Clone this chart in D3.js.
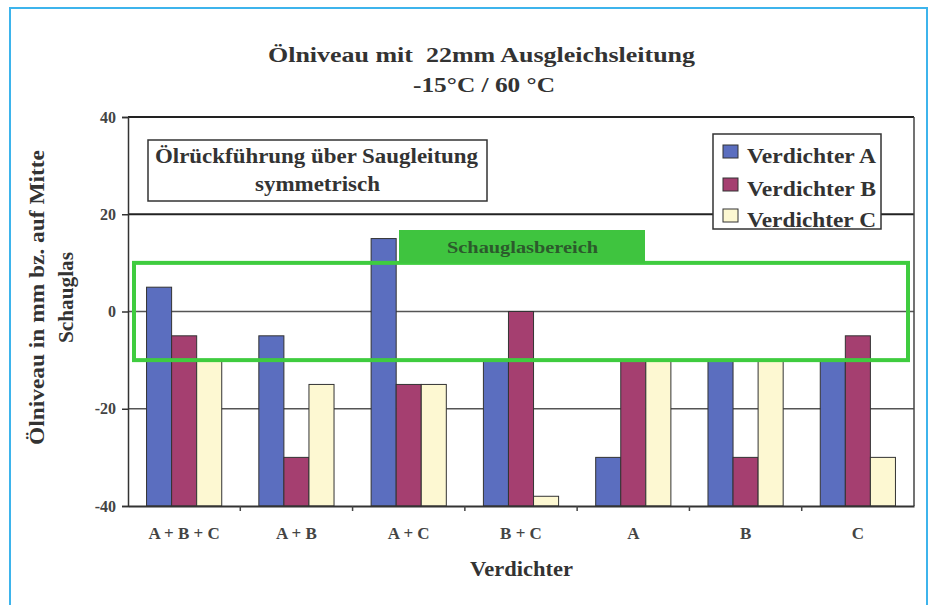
<!DOCTYPE html>
<html><head><meta charset="utf-8">
<script src="https://cdn.jsdelivr.net/npm/d3@7/dist/d3.min.js"></script>
<style>
html,body{margin:0;padding:0;background:#fff;}
svg{display:block;}
text{font-family:"Liberation Serif","Times New Roman",serif;font-weight:bold;}
</style></head>
<body>
<svg id="chart" width="933" height="605"></svg>
<script>
const categories = ["A + B + C","A + B","A + C","B + C","A","B","C"];
const seriesNames = ["Verdichter A","Verdichter B","Verdichter C"];
const verdichterA = [5,-5,15,-10,-30,-10,-10];
const verdichterB = [-5,-30,-15,0,-10,-30,-5];
const verdichterC = [-10,-15,-15,-38,-10,-10,-30];
const yTicks = [40,20,0,-20,-40];
const seriesColors = ["#5b6ebf","#a53f70","#fdf8d2"];
const schauglasRange = [10,-10];

const svg = d3.select("#chart");
const m = {left:128, right:914, top:117, bottom:506};

// outer light-blue frame
svg.append("rect").attr("x",10).attr("y",8).attr("width",917).attr("height",620)
  .attr("fill","none").attr("stroke","#3db4ec").attr("stroke-width",2);

const x0 = d3.scaleBand().domain(categories).range([m.left,m.right]).paddingInner(0).paddingOuter(0);
const x1 = d3.scaleBand().domain(seriesNames).range([0,x0.bandwidth()]).paddingOuter(0.74).paddingInner(0);
const y = d3.scaleLinear().domain([-40,40]).range([m.bottom,m.top]);

function fitText(sel, len){ return sel.attr("textLength",len).attr("lengthAdjust","spacingAndGlyphs"); }

// title
fitText(svg.append("text").attr("x",481.5).attr("y",62).attr("text-anchor","middle")
  .attr("font-size",20).attr("fill","#333").attr("xml:space","preserve").text("Ölniveau mit  22mm Ausgleichsleitung"),427);
fitText(svg.append("text").attr("x",484).attr("y",92).attr("text-anchor","middle")
  .attr("font-size",20).attr("fill","#333").text("-15°C / 60 °C"),142);

// gridlines
svg.append("g").selectAll("line").data(yTicks.filter(d=>d>-40)).join("line")
  .attr("x1",m.left).attr("x2",m.right)
  .attr("y1",d=>y(d)).attr("y2",d=>y(d))
  .attr("stroke",d=>d===20||d===40?"#222":"#555").attr("stroke-width",d=>d===20||d===40?2:1.5);

// right border
svg.append("line").attr("x1",m.right).attr("x2",m.right).attr("y1",m.top).attr("y2",m.bottom)
  .attr("stroke","#444").attr("stroke-width",1.5);

// bars
const data = categories.map((c,i)=>({cat:c, vals:[verdichterA[i],verdichterB[i],verdichterC[i]]}));
const groups = svg.append("g").selectAll("g").data(data).join("g")
  .attr("transform",d=>`translate(${x0(d.cat)},0)`);
groups.selectAll("rect").data(d=>d.vals.map((v,j)=>({v, s:seriesNames[j], j}))).join("rect")
  .attr("x",d=>x1(d.s)).attr("width",x1.bandwidth())
  .attr("y",d=>y(d.v)).attr("height",d=>y(-40)-y(d.v))
  .attr("fill",d=>seriesColors[d.j]).attr("stroke","#333").attr("stroke-width",1);

// y axis
const yAxis = svg.append("g").attr("transform",`translate(${m.left},0)`)
  .call(d3.axisLeft(y).tickValues(yTicks).tickSize(6).tickPadding(6).tickFormat(d=>String(d)));
yAxis.select(".domain").attr("stroke","#333").attr("stroke-width",1.5);
yAxis.selectAll(".tick line").attr("stroke","#333").attr("stroke-width",1.5);
yAxis.selectAll(".tick text").attr("font-size",16).attr("fill","#444")
  .style("font-family","'Liberation Serif',serif").style("font-weight","bold");

// x axis
const xAxis = svg.append("g").attr("transform",`translate(0,${m.bottom})`)
  .call(d3.axisBottom(x0).tickSize(0).tickPadding(21));
xAxis.select(".domain").attr("stroke","#333").attr("stroke-width",2);
xAxis.selectAll(".tick text").attr("font-size",17).attr("fill","#444")
  .style("font-family","'Liberation Serif',serif").style("font-weight","bold");
svg.append("g").selectAll("line").data(categories.slice(1)).join("line")
  .attr("x1",d=>x0(d)).attr("x2",d=>x0(d)).attr("y1",m.bottom).attr("y2",m.bottom+5)
  .attr("stroke","#444").attr("stroke-width",1.5);

// axis titles
fitText(svg.append("text").attr("x",521.5).attr("y",576).attr("text-anchor","middle")
  .attr("font-size",20).attr("fill","#333").text("Verdichter"),103);
fitText(svg.append("text").attr("transform","translate(44,297.5) rotate(-90)").attr("text-anchor","middle")
  .attr("font-size",20).attr("fill","#333").text("Ölniveau in mm bz. auf Mitte"),295);
fitText(svg.append("text").attr("transform","translate(73,297.5) rotate(-90)").attr("text-anchor","middle")
  .attr("font-size",20).attr("fill","#333").text("Schauglas"),91);

// Schauglas region
svg.append("rect").attr("x",134).attr("y",y(schauglasRange[0]))
  .attr("width",908-134).attr("height",y(schauglasRange[1])-y(schauglasRange[0]))
  .attr("fill","none").attr("stroke","#3fcc3f").attr("stroke-width",4);
svg.append("rect").attr("x",399).attr("y",230).attr("width",246).attr("height",y(schauglasRange[0])-230)
  .attr("fill","#3fc43f");
fitText(svg.append("text").attr("x",522.5).attr("y",253).attr("text-anchor","middle")
  .attr("font-size",16).attr("fill","#2c5a2c").text("Schauglasbereich"),151);

// annotation box
svg.append("rect").attr("x",148).attr("y",140).attr("width",339).attr("height",61)
  .attr("fill","#fff").attr("stroke","#333").attr("stroke-width",1.5);
fitText(svg.append("text").attr("x",316.5).attr("y",163).attr("text-anchor","middle")
  .attr("font-size",20).attr("fill","#333").text("Ölrückführung über Saugleitung"),323);
fitText(svg.append("text").attr("x",317.5).attr("y",191).attr("text-anchor","middle")
  .attr("font-size",20).attr("fill","#333").text("symmetrisch"),125);

// legend
const lg = svg.append("g");
lg.append("rect").attr("x",713).attr("y",134).attr("width",168).attr("height",95)
  .attr("fill","#fff").attr("stroke","#333").attr("stroke-width",1.5);
const legendY = [163,196,227];
const li = lg.selectAll("g").data(seriesNames).join("g")
  .attr("transform",(d,i)=>`translate(723,${legendY[i]})`);
li.append("rect").attr("x",0).attr("y",-18).attr("width",15).attr("height",13)
  .attr("fill",(d,i)=>seriesColors[i]).attr("stroke","#333").attr("stroke-width",1);
li.append("text").attr("x",24).attr("y",0).attr("font-size",20).attr("fill","#333")
  .attr("textLength",129).attr("lengthAdjust","spacingAndGlyphs").text(d=>d);
</script>
</body></html>
